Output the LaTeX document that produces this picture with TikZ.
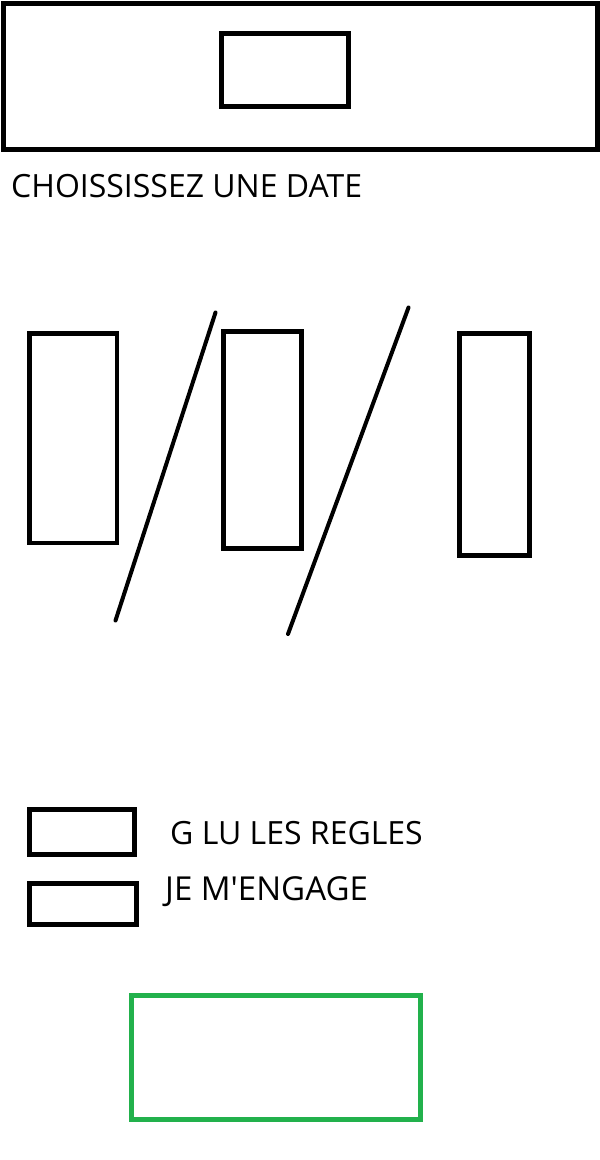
\documentclass[tikz,border=0pt]{standalone}
\usepackage{fontspec}
\setmainfont{Open Sans}
\definecolor{paintgreen}{HTML}{22B14C}
\begin{document}
\begin{tikzpicture}[x=1pt,y=-1pt,
  box/.style={draw=black,line width=4.5pt,inner sep=0pt,outer sep=0pt,rectangle},
  slash/.style={draw=black,line width=4pt,line cap=round},
  lbl/.style={inner sep=0pt,anchor=base west,font=\fontsize{32}{38}\selectfont}]
\useasboundingbox[fill=white] (0,0) rectangle (600,1160);
% header
\node[box,line width=5pt,minimum width=593.5pt,minimum height=146pt] (header) at (300.25,76.5) {};
\node[box,line width=5pt,minimum width=127pt,minimum height=73pt] (logo) at (285,70) {};
\node[lbl] (title) at (11,197) {CHOISSISSEZ UNE DATE};
% date fields
\node[box,minimum width=87.5pt,minimum height=209.5pt] (day) at (73.25,438.25) {};
\node[box,minimum width=78pt,minimum height=217.4pt] (month) at (262.5,440) {};
\node[box,minimum width=69.6pt,minimum height=222pt] (year) at (494.5,444.3) {};
\coordinate (s1a) at (215.5,312.5);
\coordinate (s1b) at (115.5,620.5);
\coordinate (s2a) at (408.5,307.5);
\coordinate (s2b) at (288,634);
\draw[slash] (s1a) -- (s1b);
\draw[slash] (s2a) -- (s2b);
% checkboxes
\node[box,line width=5pt,minimum width=105pt,minimum height=45pt] (cb1) at (82,832) {};
\node[box,line width=5pt,minimum width=107pt,minimum height=41pt] (cb2) at (83,904) {};
\node[lbl] (t1) at (170,844) {G LU LES REGLES};
\node[lbl,font=\fontsize{33}{38}\selectfont] (t2) at (165,900) {JE M\textquotesingle ENGAGE};
% submit
\node[box,draw=paintgreen,line width=5pt,minimum width=289pt,minimum height=124pt] (submit) at (276,1057.5) {};
\end{tikzpicture}
\end{document}
